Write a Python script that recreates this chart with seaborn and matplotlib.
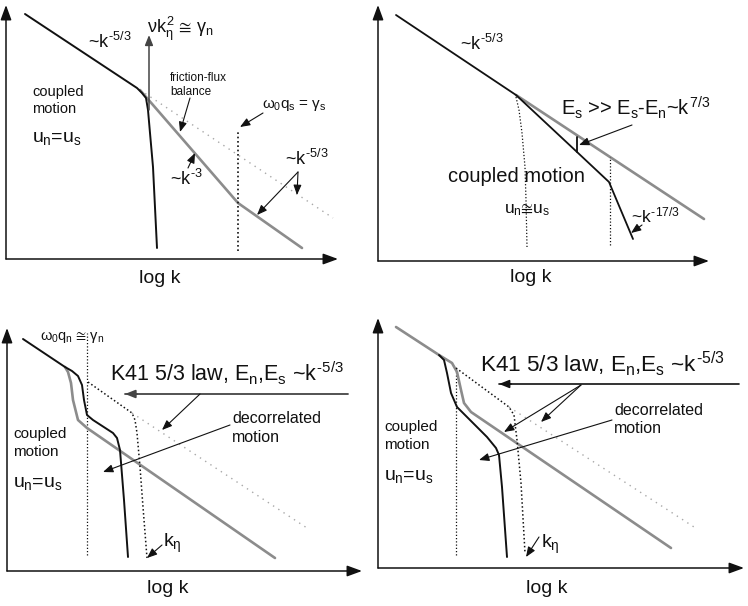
import matplotlib
matplotlib.use("Agg")
import matplotlib.pyplot as plt
import seaborn as sns
import pandas as pd

sns.set_style("white")
plt.rcParams["font.family"] = ["Liberation Sans", "DejaVu Sans"]
plt.rcParams["mathtext.fontset"] = "custom"
plt.rcParams["mathtext.rm"] = "Liberation Sans"
plt.rcParams["mathtext.it"] = "Liberation Sans"
plt.rcParams["mathtext.bf"] = "Liberation Sans:bold"
plt.rcParams["mathtext.fallback"] = "stixsans"

# ---------------- data (log k , log E in panel units) ----------------
# Panel 1
p1_n_k = [19, 131, 136, 140, 142, 144, 147, 151]
p1_n_E = [245, 171, 166, 161, 149, 126, 92, 11]
p1_s_k = [134, 232, 296]
p1_s_E = [169, 56, 11]
p1_k53_k = [134, 327]
p1_k53_E = [169, 41]
p1_cut_k = [232, 232]
p1_cut_E = [8, 129]
# Panel 2
p2_n_k = [18, 138, 199, 231, 255]
p2_n_E = [246, 166, 109, 79, 22]
p2_s_k = [138, 326]
p2_s_E = [166, 42]
p2_tick_k = [199, 199]
p2_tick_E = [109, 124]
p2_dot_k = [138, 141, 144, 147, 148, 149]
p2_dot_E = [164, 151, 128, 94, 61, 14]
p2_cut_k = [232, 232]
p2_cut_E = [16, 104]
# Panel 3
p3_n_k = [16, 58, 65, 71, 75, 77, 80, 86, 106, 110, 113, 117, 121]
p3_n_E = [232, 204, 200, 195, 186, 171, 156, 151, 138, 133, 121, 71, 14]
p3_s_k = [58, 61, 64, 66, 71, 80, 268]
p3_s_E = [204, 199, 188, 171, 151, 143, 13]
p3_dot_k = [81, 125, 128, 130, 133, 136, 140]
p3_dot_E = [189, 158, 151, 138, 104, 64, 13]
p3_k53_k = [125, 300]
p3_k53_E = [158, 43]
p3_cut_k = [80, 80]
p3_cut_E = [16, 238]
# Panel 4
p4_s_k = [18, 61, 74, 79, 83, 86, 93, 293]
p4_s_E = [241, 213, 205, 196, 178, 165, 156, 20]
p4_n_k = [61, 66, 69, 73, 79, 89, 109, 118, 121, 124, 129]
p4_n_E = [213, 208, 195, 175, 161, 151, 131, 120, 113, 81, 11]
p4_dot_k = [78, 131, 136, 139, 143, 147]
p4_dot_E = [200, 161, 153, 128, 85, 15]
p4_k53_k = [131, 316]
p4_k53_E = [161, 41]
p4_cut_k = [78, 78]
p4_cut_E = [13, 200]

# ---------------- styles ----------------
W, H = 748, 606
BLACK = "#111111"
GRAY = "#8c8c8c"
LGRAY = "#a8a8a8"
fig = plt.figure(figsize=(W / 100, H / 100), dpi=100)
fig.patch.set_facecolor("white")

AXIS_ARROW = dict(arrowstyle="-|>,head_length=0.6,head_width=0.22", color=BLACK,
                  lw=1.1, mutation_scale=15, shrinkA=0, shrinkB=0)
SMALL_ARROW = dict(arrowstyle="-|>,head_length=0.6,head_width=0.24", color=BLACK,
                   lw=0.8, mutation_scale=10, shrinkA=0, shrinkB=0)


def panel(px, py, w, h, ox, oy, xtop, ytop):
    ax = fig.add_axes([px / W, 1 - (py + h) / H, w / W, h / H])
    ax.set_xlim(-ox, w - ox)
    ax.set_ylim(-(h - oy), oy)
    ax.axis("off")
    ax.annotate("", xy=(0, ytop), xytext=(0, 0), arrowprops=AXIS_ARROW)
    ax.annotate("", xy=(xtop, 0), xytext=(0, 0), arrowprops=AXIS_ARROW)
    return ax


def curve(ax, k, E, color=BLACK, lw=1.4, ls="-"):
    df = pd.DataFrame({"log k": k, "log E": E})
    sns.lineplot(data=df, x="log k", y="log E", ax=ax, sort=False, estimator=None,
                 color=color, lw=lw, linestyle=ls, legend=False)
    ax.set_xlabel("")
    ax.set_ylabel("")


def arrow(ax, tail, head, **kw):
    props = dict(SMALL_ARROW)
    props.update(kw)
    ax.annotate("", xy=head, xytext=tail, arrowprops=props)


def txt(ax, x, y, s, size, ha="left"):
    ax.text(x, y, s, fontsize=size, ha=ha, va="baseline", color=BLACK)


DOT_K = (0, (1, 1.6))
DOT_G = (0, (1, 3.5))
M53 = r"~$k^{\text{-}5/3}$"

# ---------------- panel 1 ----------------
ax1 = panel(0, 0, 374, 300, 6, 259, 332, 254)
curve(ax1, p1_k53_k, p1_k53_E, LGRAY, 1.0, DOT_G)
curve(ax1, p1_s_k, p1_s_E, GRAY, 1.9)
curve(ax1, p1_n_k, p1_n_E, BLACK, 1.4)
curve(ax1, p1_cut_k, p1_cut_E, BLACK, 1.2, DOT_K)
arrow(ax1, (143, 149), (143, 224), color="#444444", lw=1.1, mutation_scale=10)
txt(ax1, 141, 226, r"$νk_η^2\ ≅\ γ_n$", 13)
txt(ax1, 82, 211, M53, 13)
txt(ax1, 26, 163, "coupled", 10.5)
txt(ax1, 26, 146, "motion", 10.5)
txt(ax1, 26, 117, r"$u_n$=$u_s$", 14)
txt(ax1, 164, 178, "friction-flux", 8.5)
txt(ax1, 164, 164, "balance", 8.5)
arrow(ax1, (184, 161), (174, 127))
txt(ax1, 164, 74, r"~$k^{\text{-}3}$", 13)
arrow(ax1, (182, 91), (189, 106))
txt(ax1, 256, 151, r"$ω_0q_s$ = $γ_s$", 11)
arrow(ax1, (257, 146), (234, 132))
txt(ax1, 279, 94, M53, 13)
arrow(ax1, (292, 87), (251, 44))
arrow(ax1, (292, 87), (291, 64))
txt(ax1, 154, -24, "log k", 14, ha="center")

# ---------------- panel 2 ----------------
ax2 = panel(374, 0, 374, 300, 4, 261, 331, 256)
curve(ax2, p2_s_k, p2_s_E, GRAY, 1.9)
curve(ax2, p2_n_k, p2_n_E, BLACK, 1.3)
curve(ax2, p2_tick_k, p2_tick_E, BLACK, 1.3)
curve(ax2, p2_dot_k, p2_dot_E, BLACK, 0.9, DOT_K)
curve(ax2, p2_cut_k, p2_cut_E, BLACK, 0.9, DOT_K)
txt(ax2, 82, 211, M53, 13)
txt(ax2, 183, 146, r"$E_s$ >> $E_s$-$E_n$~$k^{7/3}$", 14.5)
arrow(ax2, (254, 136), (201, 116))
txt(ax2, 70, 79, "coupled motion", 14.5)
txt(ax2, 126, 48, r"$u_n≅u_s$", 12.5)
txt(ax2, 253, 39, r"~$k^{\text{-}17/3}$", 12.5)
arrow(ax2, (264, 36), (253, 28))
txt(ax2, 153, -21, "log k", 14, ha="center")

# ---------------- panel 3 ----------------
ax3 = panel(0, 300, 374, 306, 7, 271, 355, 243)
curve(ax3, p3_k53_k, p3_k53_E, LGRAY, 1.0, DOT_G)
curve(ax3, p3_cut_k, p3_cut_E, BLACK, 0.9, DOT_K)
curve(ax3, p3_s_k, p3_s_E, GRAY, 1.9)
curve(ax3, p3_n_k, p3_n_E, BLACK, 1.4)
curve(ax3, p3_dot_k, p3_dot_E, BLACK, 1.1, DOT_K)
txt(ax3, 33, 231, r"$ω_0q_n\ ≅\ γ_n$", 10.5)
txt(ax3, 103, 190, r"K41 5/3 law, $E_n$,$E_s$ " + M53, 15.5)
ax3.plot([118, 341], [177, 177], color="#444444", lw=1.3)
arrow(ax3, (130, 177), (118, 177), color="#444444", lw=1.3)
arrow(ax3, (193, 177), (155, 141))
txt(ax3, 225, 148, "decorrelated", 11.5)
txt(ax3, 225, 129, "motion", 11.5)
arrow(ax3, (223, 146), (96, 99))
txt(ax3, 6, 133, "coupled", 11)
txt(ax3, 6, 115, "motion", 11)
txt(ax3, 6, 84, r"$u_n$=$u_s$", 14)
txt(ax3, 156, 24, r"$k_η$", 14)
arrow(ax3, (155, 26), (140, 13))
txt(ax3, 161, -22, "log k", 14, ha="center")

# ---------------- panel 4 ----------------
ax4 = panel(374, 300, 374, 306, 4, 268, 366, 250)
curve(ax4, p4_k53_k, p4_k53_E, LGRAY, 1.0, DOT_G)
curve(ax4, p4_cut_k, p4_cut_E, BLACK, 0.9, DOT_K)
curve(ax4, p4_s_k, p4_s_E, GRAY, 1.9)
curve(ax4, p4_n_k, p4_n_E, BLACK, 1.4)
curve(ax4, p4_dot_k, p4_dot_E, BLACK, 1.1, DOT_K)
txt(ax4, 102, 196, r"K41 5/3 law, $E_n$,$E_s$ " + M53, 16.2)
ax4.plot([121, 361], [184, 184], color=BLACK, lw=1.2)
arrow(ax4, (133, 184), (121, 184), lw=1.2)
arrow(ax4, (203, 183), (126, 136))
arrow(ax4, (203, 183), (163, 146))
txt(ax4, 236, 153, "decorrelated", 11.5)
txt(ax4, 236, 135, "motion", 11.5)
arrow(ax4, (234, 148), (101, 108))
txt(ax4, 6, 137, "coupled", 11)
txt(ax4, 6, 119, "motion", 11)
txt(ax4, 6, 88, r"$u_n$=$u_s$", 14)
txt(ax4, 163, 20, r"$k_η$", 14)
arrow(ax4, (161, 31), (148, 11))
txt(ax4, 169, -25, "log k", 14, ha="center")

fig.savefig("out.png", dpi=100, facecolor="white")
